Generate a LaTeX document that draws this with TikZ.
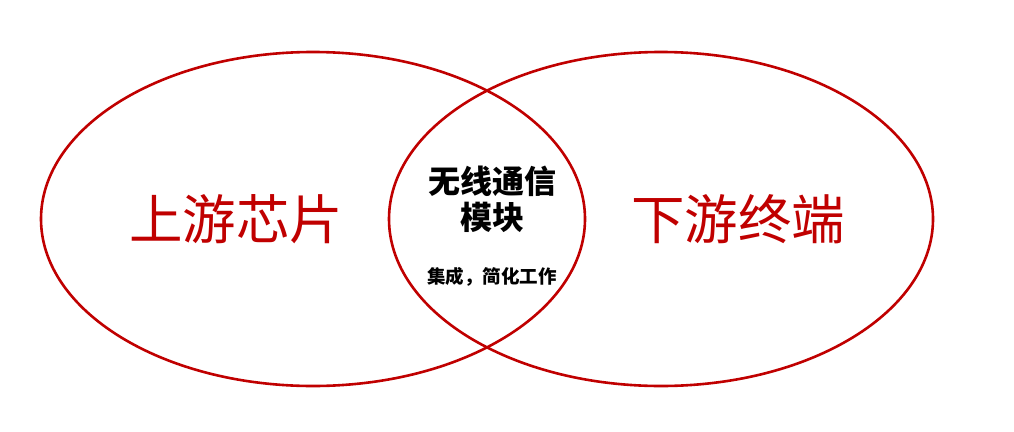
\documentclass[tikz,border=0pt]{standalone}
\usepackage{fontspec}
\usepackage{xcolor}
\usetikzlibrary{positioning,shapes.geometric}
\newfontfamily\cjk{Noto Sans CJK SC}
\newfontfamily\cjkbold{Noto Sans CJK SC Black}
\definecolor{darkred}{RGB}{192,0,0}

\begin{document}
\begin{tikzpicture}[x=1pt, y=-1pt,
ring/.style = {draw=darkred, ellipse, line width=2.6pt, minimum width=544pt, minimum height=334pt, inner sep=0pt},
bigtext/.style = {text=darkred, font=\cjk\fontsize{53.5}{60}\selectfont},
midtext/.style = {text=black, font=\cjkbold\fontsize{32}{36}\selectfont, align=center},
smalltext/.style = {text=black, font=\cjkbold\fontsize{18.5}{20}\selectfont}]
\useasboundingbox (0,0) rectangle (1014,431);
\node[ring] (left) at (313,219) {};
\node[ring] (right) at (661,219) {};
\node[bigtext] (up) at (236,219) {上游芯片};
\node[bigtext] (down) at (738,219) {下游终端};
\node[midtext] (module) at (492,199) {无线通信\\模块};
\node[smalltext] (note) at (492,277) {集成，简化工作};
\end{tikzpicture}
\end{document}
